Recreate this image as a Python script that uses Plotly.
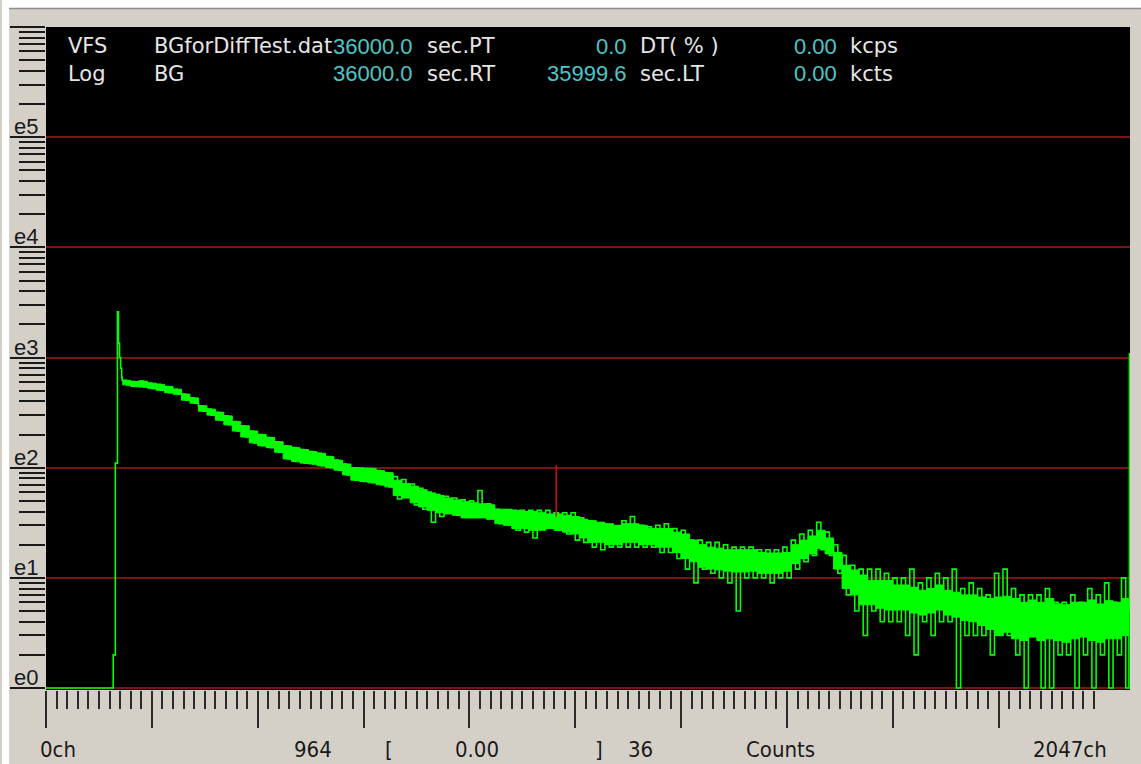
import plotly.graph_objects as go

# ---------------- data ----------------
lead_ch = [0, 126, 127, 131, 135, 137, 139, 141, 143]
lead_counts = [1, 1, 2, 110, 2600, 1350, 1000, 800, 660]

# per 16-channel bin starting at channel 144: extreme upper / lower readings (counts)
band_hi = [620, 605, 610, 585, 570, 545, 515, 465, 430, 365, 340, 318, 295, 262, 240, 215,
           200, 188, 172, 158, 152, 146, 140, 135, 126, 117, 108, 100, 99, 98, 94, 90,
           83, 78, 71, 65, 60, 57, 55, 53, 51, 50, 62, 47, 42, 41, 41, 41,
           41, 41, 41, 39, 39, 39, 35, 33, 31, 30, 29, 33, 36, 30, 29, 30,
           31, 28, 27, 22, 22, 21, 21, 20, 19, 19, 19, 18, 18, 18, 19, 22,
           25, 27, 32, 26, 20, 16, 13, 12, 12, 12, 11, 10, 10, 12, 9, 10,
           11, 10, 12, 8, 9, 8, 7, 11, 12, 8, 7, 7, 7, 8, 6, 6,
           7, 6, 8, 7, 9, 6, 10]
band_lo = [565, 545, 540, 525, 505, 480, 465, 410, 385, 325, 300, 270, 245, 215, 190, 168,
           158, 152, 138, 120, 114, 110, 108, 104, 100, 95, 86, 77, 75, 73, 70, 67,
           52, 56, 46, 42, 32, 36, 39, 37, 36, 38, 39, 36, 31, 30, 27, 26,
           23, 28, 29, 27, 25, 22, 21, 19, 18, 19, 19, 19, 19, 19, 19, 17,
           17, 15, 12, 9, 12, 11, 10, 9, 5, 10, 10, 10, 9, 10, 10, 12,
           14, 16, 18, 16, 11, 7, 5, 3, 5, 4, 4, 4, 3, 2, 4, 3,
           4, 4, 1, 3, 3, 3, 2, 3, 3, 2, 1, 3, 1, 1, 2, 2,
           1, 2, 1, 2, 1, 2, 1]
# solid core of the band per bin (counts)
core_hi = [620, 605, 610, 585, 570, 545, 515, 465, 430, 365, 340, 318, 295, 262, 240, 215,
           200, 188, 172, 158, 152, 146, 140, 135, 126, 117, 108, 100, 99, 98, 94, 90,
           77, 72, 68, 63, 59, 56, 53, 51, 49, 48, 47, 46, 42, 42, 41, 40,
           40, 39, 38, 38, 37, 36, 34, 33, 32, 31, 30, 31, 31, 30, 28, 28,
           28, 26, 25, 22, 20, 19, 18.6, 18, 18, 18, 18, 17, 16.8, 16.8, 17, 20,
           22, 24, 27, 23, 17, 13, 11.8, 10.6, 9.5, 9.5, 9.5, 8.6, 8.6, 8.2, 7.7, 8,
           8.6, 7.7, 7.4, 7, 7, 6.7, 6.5, 6.7, 6.8, 6.5, 6.0, 6.3, 6.0, 6.5, 5.8, 5.7,
           6.0, 6.0, 6.3, 5.8, 6.2, 6.0, 6.5]
core_lo = [565, 545, 540, 525, 505, 480, 465, 410, 385, 325, 300, 270, 245, 215, 190, 168,
           158, 152, 138, 120, 114, 110, 108, 104, 100, 95, 86, 77, 75, 73, 70, 67,
           56, 53, 48, 44, 41, 39, 38, 37, 35, 35, 35, 34, 31, 30, 28, 28,
           27, 27, 28, 27, 26, 25, 23, 21, 21, 20, 20, 21, 21, 20, 20, 19,
           19, 17, 15, 14, 12.5, 12, 11.8, 11.5, 11.3, 11.3, 11.5, 11, 11, 11, 11.5, 13.5,
           15, 16.5, 18.5, 16.5, 12, 8, 7, 5.7, 5.7, 5.3, 5.1, 5.1, 5.1, 4.8, 4.6, 4.8,
           5.1, 4.6, 4.4, 4.1, 4.0, 3.7, 3.4, 3.0, 3.2, 2.8, 2.7, 2.9, 2.7, 2.8, 2.7, 2.6,
           2.8, 2.9, 2.7, 2.6, 2.8, 2.8, 3.0]
band_first_ch = 144
band_bin = 16

tail_ch = [2046, 2047]
tail_counts = [5, 1100]

cursor_ch = 964
cursor_counts = 36
cursor_top = 105

decades = [1, 10, 100, 1000, 10000, 100000, 1000000]
decade_labels = ["e0", "e1", "e2", "e3", "e4", "e5"]
x_major = [0, 200, 400, 600, 800, 1000, 1200, 1400, 1600, 1800]
x_minor = list(range(0, 2000, 20))

header_row1 = ["VFS", "BGforDiffTest.dat", "36000.0", "sec.PT", "0.0", "DT( % )", "0.00", "kcps"]
header_row2 = ["Log", "BG", "36000.0", "sec.RT", "35999.6", "sec.LT", "0.00", "kcts"]
footer = ["0ch", "964", "[", "0.00", "]", "36", "Counts", "2047ch"]

# ---------------- build spectrum ----------------
xs = list(lead_ch)
ys = list(lead_counts)
cx, chi, clo = [], [], []
for i, (hi, lo, c_hi, c_lo) in enumerate(zip(band_hi, band_lo, core_hi, core_lo)):
    c = band_first_ch + band_bin * i
    xs += [c, c + band_bin // 2]
    ys += [hi, lo]
    cx.append(c)
    chi.append(c_hi)
    clo.append(c_lo)
xs += tail_ch
ys += tail_counts
cx.append(tail_ch[0])
chi.append(tail_counts[0])
clo.append(tail_counts[0])

W, H = 1141, 764
L, R, T, B = 44, 11, 27, 74
PW, PH = W - L - R, H - T - B


def px(xp):
    return (xp - L) / PW


def py(yp):
    return (H - B - yp) / PH


green = "#00ff00"
fig = go.Figure()
fig.add_trace(go.Scatter(x=cx, y=clo, mode="lines", line=dict(color=green, width=1, shape="hv"),
                         hoverinfo="skip", showlegend=False))
fig.add_trace(go.Scatter(x=cx, y=chi, mode="lines", line=dict(color=green, width=1, shape="hv"),
                         fill="tonexty", fillcolor=green, hoverinfo="skip", showlegend=False))
fig.add_trace(go.Scatter(x=xs, y=ys, mode="lines", line=dict(color=green, width=1.6, shape="hv"),
                         hoverinfo="skip", showlegend=False))
fig.add_trace(go.Scatter(x=[cursor_ch, cursor_ch], y=[cursor_counts, cursor_top], mode="lines",
                         line=dict(color="#d01010", width=1.5), yaxis="y2",
                         hoverinfo="skip", showlegend=False))

yr = [-0.018, 6.0]
minor_y = [m * d for d in decades[:-1] for m in range(2, 10)]

fig.update_layout(
    width=W, height=H,
    margin=dict(l=L, r=R, t=T, b=B),
    paper_bgcolor="#d4d0c8",
    plot_bgcolor="#000000",
    showlegend=False,
    xaxis=dict(range=[0, 2048], showgrid=False, zeroline=False, showticklabels=False,
               ticks="outside", tickmode="array", tickvals=x_major, ticklen=37, tickwidth=2,
               tickcolor="#2a2a2a",
               minor=dict(ticks="outside", tickmode="array", tickvals=x_minor, ticklen=18,
                          tickwidth=2, tickcolor="#2a2a2a", showgrid=False)),
    yaxis=dict(type="log", range=yr, showgrid=False, zeroline=False, showticklabels=False,
               ticks="outside", tickmode="array", tickvals=decades, ticklen=35, tickwidth=2,
               tickcolor="#1a1a1a",
               minor=dict(ticks="outside", tickmode="array", tickvals=minor_y, ticklen=26,
                          tickwidth=2, tickcolor="#1a1a1a", showgrid=False)),
    yaxis2=dict(type="log", range=yr, overlaying="y", side="left", showgrid=True,
                gridcolor="#781414", gridwidth=2, zeroline=False, showticklabels=False,
                ticks="", tickmode="array", tickvals=decades[:-1]),
)

# window frame decoration
fig.add_shape(type="rect", xref="paper", yref="paper", x0=px(0), x1=px(W), y0=py(8), y1=py(0),
              fillcolor="#ffffff", line=dict(width=0))
fig.add_shape(type="rect", xref="paper", yref="paper", x0=px(0), x1=px(7), y0=py(H), y1=py(0),
              fillcolor="#ffffff", line=dict(width=0))
fig.add_shape(type="line", xref="paper", yref="paper", x0=px(7), x1=px(W), y0=py(8.5), y1=py(8.5),
              line=dict(color="#8c8c8c", width=1.5))

# decade labels
for k, lab in enumerate(decade_labels):
    fig.add_annotation(x=px(10), xref="paper", y=k, yref="y", text=lab, showarrow=False,
                       xanchor="left", yanchor="bottom", yshift=-4,
                       font=dict(family="Liberation Sans, Arial", size=22, color="#1a1a1a"))

# header
white = "#e6e6e6"
cyan = "#4cc6c6"
txtfont = "DejaVu Sans, Liberation Sans"
numfont = "Liberation Sans, Arial"
cols = [(64, "left", white, txtfont, 21), (150, "left", white, txtfont, 21),
        (414, "right", cyan, numfont, 22), (424, "left", white, txtfont, 21),
        (628, "right", cyan, numfont, 22), (637, "left", white, txtfont, 21),
        (838, "right", cyan, numfont, 22), (847, "left", white, txtfont, 21)]
for row, yp in ((header_row1, 46), (header_row2, 74)):
    for t, (xp, anc, col, fam, sz) in zip(row, cols):
        fig.add_annotation(x=px(xp), y=py(yp), xref="paper", yref="paper", text=t, showarrow=False,
                           xanchor=anc, yanchor="middle", font=dict(family=fam, size=sz, color=col))

# footer
fpos = [(36, "left"), (290, "left"), (382, "left"), (500, "right"), (592, "left"),
        (625, "left"), (743, "left"), (1109, "right")]
for t, (xp, anc) in zip(footer, fpos):
    fig.add_annotation(x=px(xp), y=py(749.5), xref="paper", yref="paper", text=t, showarrow=False,
                       xanchor=anc, yanchor="middle",
                       font=dict(family="DejaVu Sans Condensed, Liberation Sans", size=22,
                                 color="#1a1a1a"))

fig.write_html("out.html", config={"displayModeBar": False},
               post_script="document.body.style.margin='0';")
